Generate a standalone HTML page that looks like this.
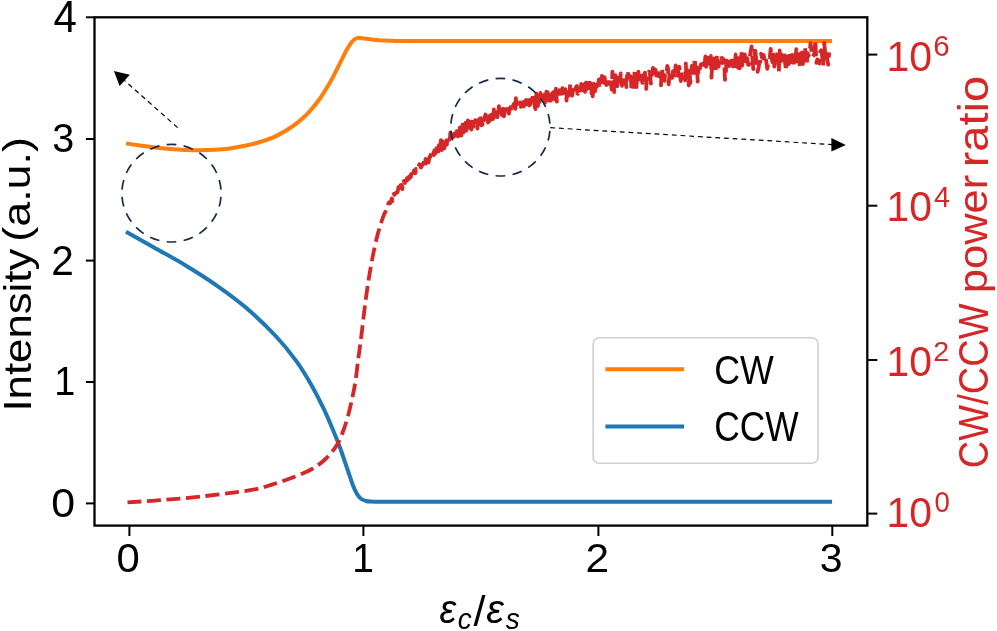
<!DOCTYPE html>
<html><head><meta charset="utf-8"><title>CW/CCW intensity</title>
<style>html,body{margin:0;padding:0;background:#fff;overflow:hidden}svg{display:block;will-change:transform}</style>
</head><body>
<svg width="997" height="631" viewBox="0 0 997 631" font-family="'Liberation Sans', sans-serif">
<rect width="997" height="631" fill="#fff"/>
<path d="M126.0 231.7C130.9 234.4 145.3 242.6 155.2 248.2C165.1 253.8 175.3 259.1 185.3 265.2C195.3 271.3 205.4 277.6 215.4 284.6C225.4 291.6 235.4 298.7 245.5 307.3C255.6 315.9 267.2 326.9 275.7 336.0C284.2 345.1 290.7 353.3 296.7 361.6C302.7 369.9 307.3 377.8 311.8 385.7C316.3 393.6 320.4 401.8 323.9 409.2C327.4 416.6 330.2 423.4 333.0 430.0C335.8 436.6 338.1 442.3 340.5 449.0C342.9 455.7 345.6 463.9 347.7 470.0C349.8 476.1 351.4 481.5 353.0 485.5C354.6 489.5 355.7 491.8 357.0 494.0C358.3 496.2 359.5 497.6 361.0 498.8C362.5 500.0 364.3 500.5 366.0 501.0C367.7 501.5 369.0 501.5 371.0 501.6C373.0 501.7 375.5 501.8 378.0 501.8C380.5 501.8 384.7 501.8 386.0 501.8L832 501.8" fill="none" stroke="#1f77b4" stroke-width="4" stroke-linejoin="round"/>
<path d="M126.0 143.4C128.3 143.8 135.2 144.9 140.0 145.6C144.8 146.3 150.0 147.0 155.0 147.6C160.0 148.2 165.0 148.6 170.0 149.0C175.0 149.4 180.0 149.7 185.0 149.9C190.0 150.1 195.0 150.2 200.0 150.2C205.0 150.2 210.0 150.1 215.0 149.8C220.0 149.5 225.0 149.1 230.0 148.4C235.0 147.7 240.0 146.9 245.0 145.8C250.0 144.7 255.0 143.5 260.0 142.0C265.0 140.5 270.0 138.9 275.0 136.6C280.0 134.3 285.8 130.7 290.0 128.0C294.2 125.3 296.7 123.4 300.0 120.6C303.3 117.8 306.7 114.7 310.0 111.0C313.3 107.3 316.7 103.2 320.0 98.5C323.3 93.8 326.9 87.8 330.0 82.5C333.1 77.2 335.6 71.8 338.3 66.5C341.0 61.2 344.2 54.4 346.3 50.5C348.4 46.6 349.6 44.9 351.0 43.0C352.4 41.1 353.3 40.1 354.5 39.3C355.7 38.4 356.8 38.1 358.0 37.9C359.2 37.7 360.0 38.0 362.0 38.2C364.0 38.4 367.0 38.9 370.0 39.3C373.0 39.6 376.7 40.0 380.0 40.3C383.3 40.5 386.7 40.7 390.0 40.8C393.3 40.9 396.7 41.0 400.0 41.0C403.3 41.0 408.3 41.1 410.0 41.1L832 41.1" fill="none" stroke="#ff7f0e" stroke-width="4" stroke-linejoin="round"/>
<path d="M127.5 502.4C132.9 502.0 147.9 501.2 160.0 500.2C172.1 499.2 185.0 498.3 200.0 496.6C215.0 494.9 238.0 492.2 250.0 490.2C262.0 488.2 264.7 486.8 272.0 484.6C279.3 482.4 287.3 479.6 294.0 477.0C300.7 474.4 306.8 472.0 312.0 469.0C317.2 466.0 321.4 462.9 325.5 459.0C329.6 455.1 333.7 450.2 336.6 445.5C339.6 440.8 341.2 436.2 343.2 431.0C345.2 425.8 346.8 420.2 348.4 414.5C349.9 408.8 351.3 402.6 352.5 397.0C353.7 391.4 354.5 387.5 355.5 381.0C356.5 374.5 357.4 365.3 358.4 358.0C359.3 350.7 359.9 347.3 361.2 337.0C362.5 326.7 364.5 308.3 366.2 296.0C367.9 283.7 369.6 273.3 371.5 263.0C373.4 252.7 375.6 242.3 377.7 234.2C379.8 226.1 382.9 217.8 384.0 214.5L384.9 212.7L385.4 211.9L385.9 210.0L386.4 208.4L386.9 208.1L387.4 207.4L387.9 206.9L388.4 203.7L388.9 202.4L389.4 203.6L389.9 202.6L390.4 203.0L390.9 201.6L391.4 199.5L391.9 198.4L392.4 201.1L392.9 196.8L393.4 195.3L393.9 194.0L394.4 194.9L394.9 194.3L395.4 193.1L395.9 192.8L396.4 192.6L396.9 192.6L397.4 192.6L397.9 190.7L398.4 187.2L398.9 190.2L399.4 186.5L399.9 187.7L400.4 185.1L400.9 186.7L401.4 184.9L401.9 185.8L402.4 189.1L402.9 184.2L403.4 185.0L403.9 181.0L404.4 182.1L404.9 183.1L405.4 181.3L405.9 181.5L406.4 180.5L406.9 178.1L407.4 180.1L407.9 177.2L408.4 181.2L408.9 176.6L409.4 178.1L409.9 176.3L410.4 177.4L410.9 174.2L411.4 176.4L411.9 173.9L412.4 175.7L412.9 174.1L413.4 172.6L413.9 170.4L414.4 172.6L414.9 171.5L415.4 173.2L415.9 169.0L416.4 170.2L416.9 169.7L417.4 168.7L417.9 168.1L418.4 167.6L418.9 165.6L419.4 164.3L419.9 165.0L420.4 166.4L420.9 167.6L421.4 166.1L421.9 165.8L422.4 164.8L422.9 164.1L423.4 162.6L423.9 163.3L424.4 164.8L424.9 160.1L425.4 158.9L425.9 163.7L426.4 159.8L426.9 160.8L427.4 160.1L427.9 155.5L428.4 162.4L428.9 160.6L429.4 156.8L429.9 157.5L430.4 155.8L430.9 153.2L431.4 154.3L431.9 154.9L432.4 156.0L432.9 154.7L433.4 152.8L433.9 155.1L434.4 150.1L434.9 153.0L435.4 153.2L435.9 149.7L436.4 145.9L436.9 147.4L437.4 149.4L437.9 149.6L438.4 151.5L438.9 145.2L439.4 147.1L439.9 148.1L440.4 145.8L440.9 140.2L441.4 147.1L441.9 150.1L442.4 146.6L442.9 141.7L443.4 142.4L443.9 143.4L444.4 148.3L444.9 143.5L445.4 141.8L445.9 144.8L446.4 140.4L446.9 144.6L447.4 138.0L447.9 138.1L448.4 140.5L448.9 141.8L449.4 139.5L449.9 138.1L450.4 132.5L450.9 134.9L451.4 134.9L451.9 134.7L452.4 137.2L452.9 134.6L453.4 137.1L453.9 135.0L454.4 133.6L454.9 134.4L455.4 134.9L455.9 135.7L456.4 131.9L456.9 132.2L457.4 128.9L457.9 136.4L458.4 135.6L458.9 131.0L459.4 129.9L459.9 127.5L460.4 131.0L460.9 130.7L461.4 135.7L461.9 130.2L462.4 127.1L462.9 122.3L463.4 132.4L463.9 128.7L464.4 123.5L464.9 128.1L465.4 123.0L465.9 134.7L466.4 130.0L466.9 128.3L467.4 126.1L467.9 120.5L468.4 125.8L468.9 121.7L469.4 127.4L469.9 119.7L470.4 122.9L470.9 128.6L471.4 129.6L471.9 121.5L472.4 120.3L472.9 126.9L473.4 126.6L473.9 121.3L474.4 121.9L474.9 121.7L475.4 120.1L475.9 121.3L476.4 126.6L476.9 124.8L477.4 128.5L477.9 122.2L478.4 121.9L478.9 119.3L479.4 121.5L479.9 117.9L480.4 116.4L480.9 123.3L481.4 125.3L481.9 123.3L482.4 124.6L482.9 121.3L483.4 118.2L483.9 120.4L484.4 118.8L484.9 116.4L485.4 114.5L485.9 114.9L486.4 119.0L486.9 119.2L487.4 117.2L487.9 122.5L488.4 118.6L488.9 119.6L489.4 121.3L489.9 115.0L490.4 111.4L490.9 119.2L491.4 114.7L491.9 120.4L492.4 117.3L492.9 119.1L493.4 118.2L493.9 109.4L494.4 117.6L494.9 113.2L495.4 112.7L495.9 113.5L496.4 116.9L496.9 117.0L497.4 117.1L497.9 108.8L498.4 111.8L498.9 106.1L499.4 112.8L499.9 114.7L500.4 110.3L500.9 113.1L501.4 112.9L501.9 115.0L502.4 109.1L502.9 108.9L503.4 108.8L503.9 116.4L504.4 114.1L504.9 110.1L505.4 110.9L505.9 110.3L506.4 110.4L506.9 108.8L507.4 108.2L507.9 105.1L508.4 106.8L508.9 113.7L509.4 110.0L509.9 108.3L510.4 107.2L510.9 107.9L511.4 108.6L511.9 105.3L512.4 107.7L512.9 107.7L513.4 104.4L513.9 104.0L514.4 103.2L514.9 102.8L515.4 108.9L515.9 98.2L516.4 104.8L516.9 103.5L517.4 103.3L517.9 105.4L518.4 108.5L518.9 105.0L519.4 104.1L519.9 102.4L520.4 103.7L520.9 106.9L521.4 102.5L521.9 99.9L522.4 99.3L522.9 99.6L523.4 98.5L523.9 106.5L524.4 103.9L524.9 101.7L525.4 107.1L525.9 100.0L526.4 104.4L526.9 104.4L527.4 96.4L527.9 96.3L528.4 98.2L528.9 104.2L529.4 105.4L529.9 96.9L530.4 104.4L530.9 99.5L531.4 99.3L531.9 98.7L532.4 99.3L532.9 94.2L533.4 96.8L533.9 95.9L534.4 101.6L534.9 107.0L535.4 109.1L535.9 98.5L536.4 93.7L536.9 98.0L537.4 96.1L537.9 106.0L538.4 101.1L538.9 96.5L539.4 102.1L539.9 100.6L540.4 93.0L540.9 96.7L541.4 97.6L541.9 98.4L542.4 98.7L542.9 96.9L543.4 98.6L543.9 95.8L544.4 94.6L544.9 102.9L545.4 98.8L545.9 99.0L546.4 91.7L546.9 96.6L547.4 100.0L547.9 92.4L548.4 100.7L548.9 95.4L549.4 98.1L549.9 96.0L550.4 97.2L550.9 100.6L551.4 94.7L551.9 101.6L552.4 93.1L552.9 92.5L553.4 98.3L553.9 91.8L554.4 94.1L554.9 98.6L555.4 99.6L555.9 88.7L556.4 96.8L556.9 101.7L557.4 99.1L557.9 93.8L558.4 92.4L558.9 93.3L559.4 90.1L559.9 93.2L560.4 93.4L560.9 93.4L561.4 98.2L561.9 92.9L562.4 88.2L562.9 97.4L563.4 89.4L563.9 91.6L564.4 92.6L564.9 91.7L565.4 89.1L566.0 91.8L566.5 100.7L567.0 90.1L567.5 91.7L568.0 96.2L568.5 94.7L569.0 94.6L569.6 94.8L570.1 84.0L570.6 88.0L571.1 91.5L571.6 92.8L572.2 95.6L572.7 92.3L573.2 89.5L573.7 90.4L574.3 89.3L574.8 90.8L575.3 92.3L575.8 88.3L576.4 86.3L576.9 85.9L577.4 93.2L578.0 93.8L578.5 92.5L579.0 91.8L579.6 91.6L580.1 88.2L580.6 90.6L581.2 83.8L581.7 86.9L582.2 84.7L582.8 90.2L583.3 84.9L583.9 86.6L584.4 88.4L585.0 91.9L585.5 83.4L586.1 82.6L586.6 89.3L587.2 81.6L587.7 87.7L588.3 83.6L588.8 85.3L589.4 78.5L589.9 88.4L590.5 83.6L591.0 81.9L591.6 93.7L592.1 88.2L592.7 96.3L593.3 86.8L593.8 83.7L594.4 85.5L595.0 91.4L595.5 84.8L596.1 86.6L596.7 86.8L597.2 81.0L597.8 85.1L598.4 82.5L598.9 79.4L599.5 87.9L600.1 87.0L600.6 84.5L601.2 80.4L601.8 75.9L602.4 86.0L603.0 83.5L603.5 76.9L604.1 83.5L604.7 77.4L605.3 83.5L605.9 84.1L606.4 84.9L607.0 84.3L607.6 84.0L608.2 78.5L608.8 81.5L609.4 80.9L610.0 82.0L610.6 84.1L611.2 85.5L611.8 89.7L612.4 71.7L613.0 84.3L613.6 81.7L614.2 92.2L614.8 86.4L615.4 75.2L616.0 83.9L616.6 79.9L617.2 86.4L617.8 77.4L618.4 81.4L619.0 81.2L619.6 81.3L620.2 79.1L620.8 73.5L621.4 83.5L622.0 85.8L622.7 81.0L623.3 76.7L623.9 82.1L624.5 83.6L625.1 80.2L625.8 80.8L626.4 87.1L627.0 75.7L627.6 78.1L628.2 72.0L628.9 77.3L629.5 77.0L630.1 75.9L630.8 77.1L631.4 88.4L632.0 79.2L632.7 79.5L633.3 90.0L633.9 79.5L634.6 71.7L635.2 81.5L635.8 75.2L636.5 87.1L637.1 73.6L637.8 76.6L638.4 71.7L639.1 79.6L639.7 74.3L640.3 78.6L641.0 77.0L641.6 75.7L642.3 82.9L642.9 82.8L643.6 78.5L644.3 73.7L644.9 72.7L645.6 79.0L646.2 89.0L646.9 75.2L647.5 73.4L648.2 73.7L648.9 71.6L649.5 72.0L650.2 75.6L650.9 83.5L651.5 76.3L652.2 73.6L652.9 68.0L653.6 76.9L654.2 75.5L654.9 69.4L655.6 70.0L656.3 75.0L656.9 80.2L657.6 78.1L658.3 75.9L659.0 73.1L659.7 76.2L660.3 74.4L661.0 85.3L661.7 68.4L662.4 72.1L663.1 80.4L663.8 72.4L664.5 80.9L665.2 73.2L665.9 74.1L666.6 71.3L667.3 65.9L668.0 67.9L668.7 84.3L669.4 76.0L670.1 75.7L670.8 77.5L671.5 75.5L672.2 77.9L672.9 71.1L673.6 71.3L674.3 77.7L675.0 70.6L675.7 65.4L676.4 71.3L677.2 69.6L677.9 75.8L678.6 68.6L679.3 66.8L680.0 70.7L680.8 81.0L681.5 72.2L682.2 73.4L682.9 72.6L683.7 74.1L684.4 77.6L685.1 80.2L685.8 63.3L686.6 79.9L687.3 72.2L688.1 70.4L688.8 85.5L689.5 71.1L690.3 82.9L691.0 77.3L691.8 66.0L692.5 74.5L693.2 75.8L694.0 70.8L694.7 58.2L695.5 69.4L696.2 70.2L697.0 64.9L697.7 81.6L698.5 69.6L699.3 68.5L700.0 68.3L700.8 64.7L701.5 64.0L702.3 68.3L703.1 68.8L703.8 63.2L704.6 64.9L705.4 56.5L706.1 66.9L706.9 58.7L707.7 64.3L708.4 57.7L709.2 60.0L710.0 64.3L710.8 55.8L711.5 77.7L712.3 62.8L713.1 62.6L713.9 58.6L714.7 72.5L715.5 71.3L716.3 64.8L717.0 54.8L717.8 60.0L718.6 66.7L719.4 59.9L720.2 55.9L721.0 55.8L721.8 58.3L722.6 63.1L723.4 59.1L724.2 63.1L725.0 79.8L725.8 73.8L726.6 56.7L727.4 65.1L728.2 63.5L729.1 62.1L729.9 69.4L730.7 60.9L731.5 60.9L732.3 60.6L733.1 62.3L734.0 70.8L734.8 67.7L735.6 54.5L736.4 60.1L737.3 57.8L738.1 67.9L738.9 64.2L739.7 68.3L740.6 62.3L741.4 50.7L742.3 65.5L743.1 64.1L743.9 65.8L744.8 54.4L745.6 63.1L746.5 58.2L747.3 58.2L748.1 64.8L749.0 64.8L749.8 56.8L750.7 51.4L751.6 46.4L752.4 58.4L753.3 69.1L754.1 61.4L755.0 47.1L755.8 55.9L756.7 64.0L757.6 71.9L758.4 68.5L759.3 63.2L760.2 61.9L761.0 53.6L761.9 57.4L762.8 58.0L763.7 55.0L764.5 60.3L765.4 57.1L766.3 61.7L767.2 68.8L768.1 64.1L768.9 61.8L769.8 57.3L770.7 48.8L771.6 57.8L772.5 62.1L773.4 51.8L774.3 66.7L775.2 56.2L776.1 60.8L777.0 56.1L777.9 49.9L778.8 71.9L779.7 50.5L780.6 64.2L781.5 54.4L782.4 59.9L783.3 52.6L784.3 55.2L785.2 64.0L786.1 70.8L787.0 52.2L787.9 57.8L788.8 64.1L789.8 53.5L790.7 62.4L791.6 52.3L792.6 61.6L793.5 60.5L794.4 65.6L795.3 59.7L796.3 49.1L797.2 61.4L798.2 49.4L799.1 61.7L800.0 66.7L801.0 60.4L801.9 52.4L802.9 64.1L803.8 57.0L804.8 47.2L805.7 53.1L806.7 65.0L807.7 53.2L808.6 55.9L809.6 52.6L810.5 43.2L811.5 51.1L812.5 56.9L813.4 55.9L814.4 53.3L815.4 39.9L816.3 62.9L817.3 59.4L818.3 61.5L819.3 63.5L820.3 51.4L821.2 50.3L822.2 56.7L823.2 66.1L824.2 42.8L825.2 52.9L826.2 49.5L827.2 58.4L828.2 64.7L829.2 52.4" fill="none" stroke="#d62728" stroke-width="3.8" stroke-dasharray="13.9 5.7" stroke-linejoin="round"/>
<g stroke="#000" stroke-width="2.3" fill="none">
<rect x="94.5" y="17.3" width="772.8" height="508.3"/>
<line x1="85.9" y1="17.3" x2="94.5" y2="17.3" stroke-width="2"/>
<line x1="85.9" y1="139.0" x2="94.5" y2="139.0" stroke-width="2"/>
<line x1="85.9" y1="260.6" x2="94.5" y2="260.6" stroke-width="2"/>
<line x1="85.9" y1="382.0" x2="94.5" y2="382.0" stroke-width="2"/>
<line x1="85.9" y1="503.4" x2="94.5" y2="503.4" stroke-width="2"/>
<line x1="129.4" y1="525.6" x2="129.4" y2="536.0" stroke-width="2"/>
<line x1="363.4" y1="525.6" x2="363.4" y2="536.0" stroke-width="2"/>
<line x1="598.4" y1="525.6" x2="598.4" y2="536.0" stroke-width="2"/>
<line x1="832.3" y1="525.6" x2="832.3" y2="536.0" stroke-width="2"/>
<line x1="867.3" y1="54.6" x2="877.3" y2="54.6" stroke-width="2"/>
<line x1="867.3" y1="205.7" x2="877.3" y2="205.7" stroke-width="2"/>
<line x1="867.3" y1="360.0" x2="877.3" y2="360.0" stroke-width="2"/>
<line x1="867.3" y1="513.6" x2="877.3" y2="513.6" stroke-width="2"/>
</g>
<g fill="none" stroke="#172b4d" stroke-width="1.7" stroke-dasharray="0.57 0.43" stroke-dashoffset="0.785">
<ellipse cx="171.5" cy="193.2" rx="49.6" ry="48.8" pathLength="18"/>
<ellipse cx="500.4" cy="127.2" rx="49.6" ry="48.8" pathLength="18"/>
</g>
<g stroke="#000" stroke-width="1.2" stroke-dasharray="4.8 3.9" fill="none">
<line x1="177.6" y1="127.6" x2="124.5" y2="80.5"/>
<line x1="550.3" y1="127.7" x2="833" y2="144.6"/>
</g>
<polygon points="113.9,71.1 129.8,74.8 119.6,86.1" fill="#000"/>
<polygon points="845.8,144.9 831.4,138.0 831.4,151.6" fill="#000"/>
<rect x="593.1" y="337.8" width="224.9" height="125.5" rx="6" ry="6" fill="#fff" fill-opacity="0.8" stroke="#d0d0d0" stroke-width="1.6"/>
<line x1="605.4" y1="369.2" x2="684.1" y2="369.2" stroke="#ff7f0e" stroke-width="3.9"/>
<line x1="605.4" y1="426.5" x2="684.1" y2="426.5" stroke="#1f77b4" stroke-width="3.9"/>
<text transform="translate(53.58 31.93) scale(1.0244 1.0691)" font-size="41" fill="#000">4</text>
<text transform="translate(52.15 151.90) scale(0.9641 1.0000)" font-size="41" fill="#000">3</text>
<text transform="translate(51.32 274.70) scale(0.9892 1.0526)" font-size="41" fill="#000">2</text>
<text transform="translate(54.23 394.70) scale(0.9222 0.9929)" font-size="41" fill="#000">1</text>
<text transform="translate(51.33 516.99) scale(1.0462 1.0138)" font-size="41" fill="#000">0</text>
<text transform="translate(116.47 571.50) scale(1.0205 0.9931)" font-size="41" fill="#000">0</text>
<text transform="translate(352.35 571.70) scale(0.9500 1.0071)" font-size="41" fill="#000">1</text>
<text transform="translate(585.42 571.70) scale(1.0378 0.9930)" font-size="41" fill="#000">2</text>
<text transform="translate(819.80 571.50) scale(1.0000 0.9931)" font-size="41" fill="#000">3</text>
<text transform="translate(886.39 70.59) scale(1.0024 1.0172)" font-size="41" fill="#d62728">10</text>
<text transform="translate(933.32 56.10) scale(1.0538 1.0368)" font-size="28" fill="#d62728">6</text>
<text transform="translate(886.41 221.39) scale(0.9976 1.0241)" font-size="41" fill="#d62728">10</text>
<text transform="translate(933.89 207.20) scale(1.0286 1.0368)" font-size="28" fill="#d62728">4</text>
<text transform="translate(886.41 375.79) scale(0.9976 1.0241)" font-size="41" fill="#d62728">10</text>
<text transform="translate(933.36 360.70) scale(1.0240 1.0158)" font-size="28" fill="#d62728">2</text>
<text transform="translate(886.41 527.18) scale(0.9976 1.0310)" font-size="41" fill="#d62728">10</text>
<text transform="translate(934.51 512.20) scale(0.9852 1.0211)" font-size="28" fill="#d62728">0</text>
<text transform="translate(714.25 383.60) scale(0.8727 0.9931)" font-size="41" fill="#000">CW</text>
<text transform="translate(714.27 441.09) scale(0.8628 1.0207)" font-size="41" fill="#000">CCW</text>
<text transform="translate(439.54 623.10) scale(0.9222 1.0044)" font-size="41" font-style="italic" fill="#000">ε</text>
<text transform="translate(457.64 629.10) scale(0.9615 1.0000)" font-size="29" font-style="italic" fill="#000">c</text>
<text transform="translate(473.60 625.57) scale(1.0522 1.0533)" font-size="41" fill="#000">/</text>
<text transform="translate(486.21 623.10) scale(0.9722 1.0044)" font-size="41" font-style="italic" fill="#000">ε</text>
<text transform="translate(505.72 629.10) scale(0.9692 1.0000)" font-size="29" font-style="italic" fill="#000">s</text>
<text transform="translate(30.81 411.57) rotate(-90) scale(1.0673 0.9632)" font-size="41" fill="#000">Intensity</text>
<text transform="translate(29.61 241.63) rotate(-90) scale(1.0917 0.9632)" font-size="41" fill="#000">(a.u.)</text>
<text transform="translate(988.29 468.16) rotate(-90) scale(0.9276 1.0267)" font-size="41" fill="#d62728">CW/CCW</text>
<text transform="translate(987.33 293.25) rotate(-90) scale(1.0618 0.9967)" font-size="41" fill="#d62728">power</text>
<text transform="translate(988.09 167.36) rotate(-90) scale(1.1457 1.0200)" font-size="41" fill="#d62728">ratio</text>
</svg>
</body></html>
